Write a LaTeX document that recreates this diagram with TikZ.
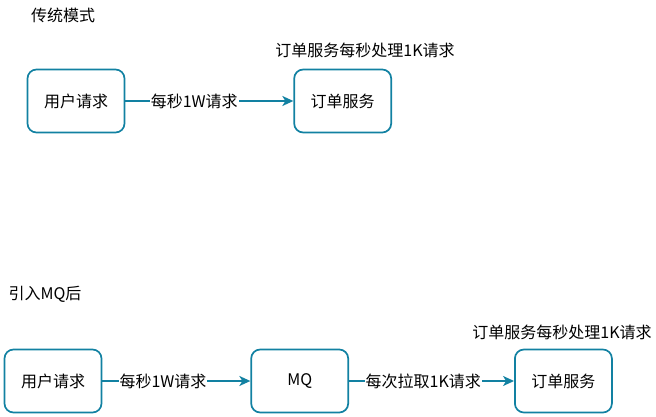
\documentclass[tikz,border=0pt]{standalone}
\usepackage{fontspec}
\setmainfont{Noto Sans CJK SC}
\usetikzlibrary{positioning,arrows.meta}
\definecolor{mqteal}{HTML}{1281A2}
\begin{document}
\begin{tikzpicture}[
x=1pt, y=-1pt,
font=\fontsize{16}{19}\selectfont,
box/.style={draw=mqteal, line width=1.7pt, rounded corners=9pt, minimum width=97pt, minimum height=63pt, inner sep=0pt},
flow/.style={draw=mqteal, line width=1.6pt, -{Stealth[length=11pt,width=10pt,inset=3pt]}},
flowlabel/.style={fill=white, inner sep=1pt}
]
\useasboundingbox (0,0) rectangle (656,417);

% traditional mode
\node (title1) at (63,15) {传统模式};
\node (user1) [box] at (76,101) {用户请求};
\node (order1) [box, right=168pt of user1] {订单服务};
\node (note1) at (365,50) {订单服务每秒处理1K请求};

\draw[flow] (user1) -- node[flowlabel, pos=0.41] {每秒1W请求} (order1);

% with MQ
\node (title2) at (45,294) {引入MQ后};
\node (user2) [box] at (53,381) {用户请求};
\node (mq) [box, right=148pt of user2] {MQ};
\node (order2) [box, right=165pt of mq] {订单服务};
\node (note2) at (562,332) {订单服务每秒处理1K请求};

\draw[flow] (user2) -- node[flowlabel, pos=0.41] {每秒1W请求} (mq);
\draw[flow] (mq) -- node[flowlabel, pos=0.45] {每次拉取1K请求} (order2);

\end{tikzpicture}
\end{document}
